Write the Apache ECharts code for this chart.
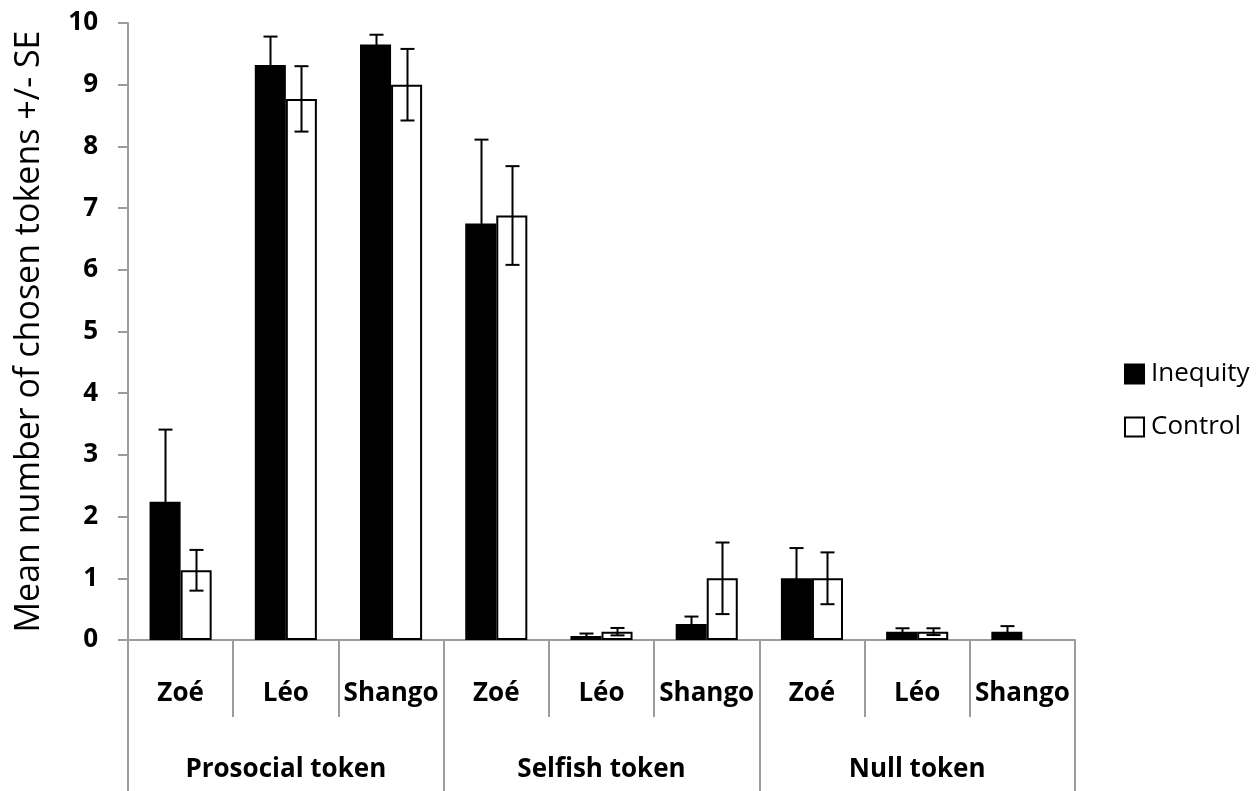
<!DOCTYPE html>
<html>
<head>
<meta charset="utf-8">
<script src="https://cdn.jsdelivr.net/npm/echarts@6/dist/echarts.min.js"></script>
<style>
html,body{margin:0;padding:0;background:#fff;}
#chart{width:1258px;height:791px;}
</style>
</head>
<body>
<div id="chart"></div>
<script>
var names = ['Zoé','Léo','Shango','Zoé','Léo','Shango','Zoé','Léo','Shango'];
var groups = ['Prosocial token','Selfish token','Null token'];
var yTicks = [0,1,2,3,4,5,6,7,8,9,10];
var inequity   = [2.24, 9.32, 9.65, 6.75, 0.065, 0.26, 1.0, 0.135, 0.135];
var inequitySE = [1.17, 0.46, 0.16, 1.36, 0.04, 0.12, 0.49, 0.055, 0.09];
var control    = [1.13, 8.77, 9.0, 6.88, 0.135, 1.0, 1.0, 0.135, 0];
var controlSE  = [0.33, 0.53, 0.58, 0.80, 0.06, 0.58, 0.42, 0.055, 0];

var FONT = 'Open Sans';
var GRAY = '#9c9c9c';
var CAT_GAP = 0.41;

function errData(vals, ses){
  return vals.map(function(v,i){ return [i, v, ses[i]]; });
}
function barData(vals){
  return vals.map(function(v){
    return v === 0 ? {value:v, itemStyle:{borderWidth:0}} : v;
  });
}
function errRender(sign){
  return function(params, api){
    var idx = api.value(0), v = api.value(1), se = api.value(2);
    if (!se) return null;
    var band = api.size([1,0])[0];
    var bw = band*(1-CAT_GAP)/2;
    var cx = Math.round(api.coord([idx,0])[0] + sign*bw/2) + 0.5;
    var top = api.coord([idx, v+se])[1];
    var bot = api.coord([idx, Math.max(0, v-se)])[1];
    var cap = 7;
    var st = {stroke:'#000', lineWidth:2};
    return {type:'group', children:[
      {type:'line', shape:{x1:cx,y1:top,x2:cx,y2:bot}, style:st},
      {type:'line', shape:{x1:cx-cap,y1:top,x2:cx+cap,y2:top}, style:st},
      {type:'line', shape:{x1:cx-cap,y1:bot,x2:cx+cap,y2:bot}, style:st}
    ]};
  };
}

var chart = echarts.init(document.getElementById('chart'), null, {renderer:'canvas'});
chart.setOption({
  animation:false,
  backgroundColor:'#fff',
  textStyle:{fontFamily:FONT},
  grid:{left:128, right:183, top:23, bottom:151, containLabel:false},
  legend:{
    data:['Inequity','Control'],
    orient:'vertical',
    left:1119, top:356,
    itemWidth:19, itemHeight:19, itemGap:27,
    icon:'rect',
    textStyle:{fontFamily:FONT, fontSize:26, color:'#000', padding:[0,0,0,2]}
  },
  xAxis:[{
    type:'category', data:names, position:'bottom',
    axisLine:{lineStyle:{color:GRAY, width:2}},
    axisTick:{show:true, interval:0, length:77, lineStyle:{color:GRAY, width:2}},
    axisLabel:{interval:0, margin:41, fontFamily:FONT, fontSize:26, fontWeight:'bold', color:'#000'},
    splitLine:{show:false}
  },{
    type:'category', data:groups, position:'bottom', offset:0,
    axisLine:{show:false},
    axisTick:{show:true, interval:0, length:151, lineStyle:{color:GRAY, width:2}},
    axisLabel:{interval:0, margin:117, fontFamily:FONT, fontSize:26, fontWeight:'bold', color:'#000'},
    splitLine:{show:false}
  }],
  yAxis:{
    type:'value', min:0, max:10, interval:1,
    name:'Mean number of chosen tokens +/- SE',
    nameLocation:'middle', nameGap:82,
    nameTextStyle:{fontFamily:FONT, fontSize:34, color:'#000'},
    axisLine:{show:true, lineStyle:{color:GRAY, width:2}},
    axisTick:{show:true, inside:false, length:10, lineStyle:{color:GRAY, width:2}},
    axisLabel:{margin:30, fontFamily:FONT, fontSize:26, fontWeight:'bold', color:'#000',
      formatter:function(v){ return yTicks.indexOf(v)>=0 ? String(v) : ''; }},
    splitLine:{show:false}
  },
  series:[{
    name:'Inequity', type:'bar', xAxisIndex:0, data:barData(inequity),
    barGap:'0%', barCategoryGap:(CAT_GAP*100)+'%',
    itemStyle:{color:'#000', borderColor:'#000', borderWidth:1.5}
  },{
    name:'Control', type:'bar', xAxisIndex:0, data:barData(control),
    barGap:'0%', barCategoryGap:(CAT_GAP*100)+'%',
    itemStyle:{color:'#fff', borderColor:'#000', borderWidth:2}
  },{
    name:'errI', type:'custom', xAxisIndex:0, data:errData(inequity, inequitySE),
    renderItem:errRender(-1), z:10, encode:{x:0,y:1}
  },{
    name:'errC', type:'custom', xAxisIndex:0, data:errData(control, controlSE),
    renderItem:errRender(1), z:10, encode:{x:0,y:1}
  }]
});
</script>
</body>
</html>
